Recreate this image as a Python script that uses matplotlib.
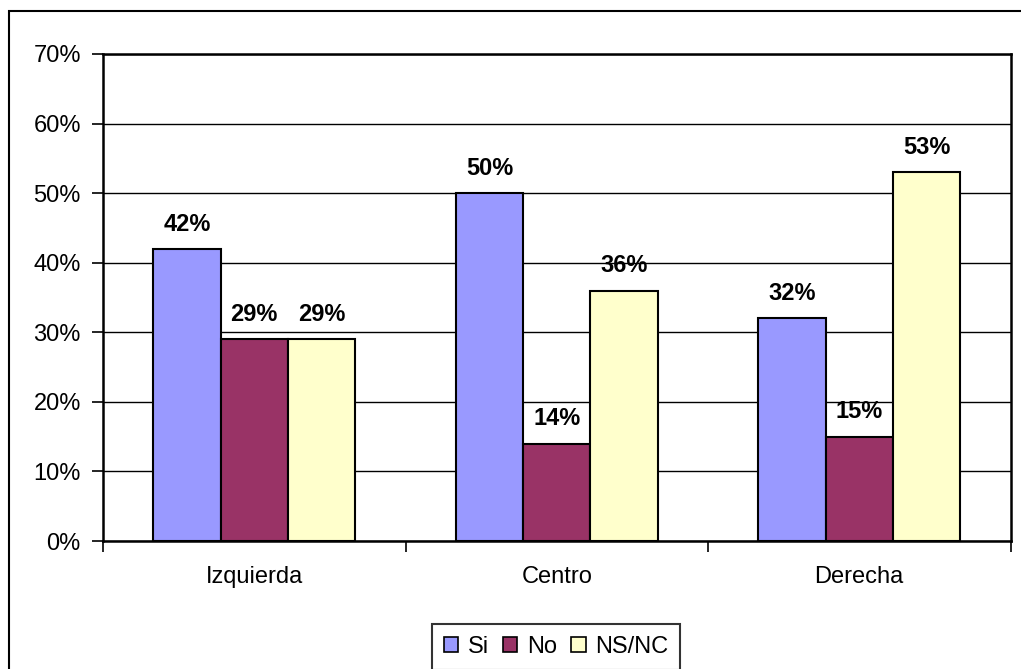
import matplotlib
matplotlib.use("Agg")
import matplotlib.pyplot as plt
from matplotlib.patches import Rectangle
from matplotlib.ticker import FixedLocator, FuncFormatter
import numpy as np

categories = ["Izquierda", "Centro", "Derecha"]
series_names = ["Si", "No", "NS/NC"]
si = [42, 50, 32]
no = [29, 14, 15]
nsnc = [29, 36, 53]
series_values = [si, no, nsnc]
colors = ["#9999FF", "#993366", "#FFFFCC"]
yticks = [0, 10, 20, 30, 40, 50, 60, 70]

plt.rcParams['font.family'] = ['Liberation Sans', 'DejaVu Sans']

W, H = 1021, 669
fig = plt.figure(figsize=(W / 100, H / 100), dpi=100)

# outer chart border (extends beyond image on right/bottom)
fig.patches.append(Rectangle((8.5 / W, -0.1), 1.2, 1 - 11.5 / H + 0.1,
                             transform=fig.transFigure, fill=False,
                             edgecolor="black", linewidth=1.5))

left, right, top, bottom = 103, 1010.5, 54, 541
ax = fig.add_axes([left / W, 1 - bottom / H, (right - left) / W, (bottom - top) / H])

FS = 17
LFS = 17
n = len(categories)
x = np.arange(n)
bw = 1 / (3 + 1.5)
for i, (name, vals, c) in enumerate(zip(series_names, series_values, colors)):
    pos = x + (i - 1) * bw
    ax.bar(pos, vals, width=bw, color=c, edgecolor="black", linewidth=1.5,
           label=name, zorder=3)
    for xb, v in zip(pos, vals):
        ax.annotate(f"{v}%", (xb, v), xytext=(0, 9.5), textcoords="offset points",
                    ha="center", va="bottom", fontsize=FS, fontweight="bold", zorder=4)

ax.set_xlim(-0.5, n - 0.5)
ax.set_ylim(0, 70)
ax.set_yticks(yticks)
ax.yaxis.set_major_formatter(FuncFormatter(lambda v, p: f"{int(v)}%"))
ax.yaxis.grid(True, color="black", linewidth=1.0, zorder=0)
ax.set_axisbelow(True)

ax.set_xticks(x)
ax.set_xticklabels(categories)
ax.xaxis.set_minor_locator(FixedLocator(np.arange(-0.5, n, 1.0)))
ax.tick_params(axis="x", which="major", length=0, pad=18, labelsize=FS)
ax.tick_params(axis="x", which="minor", length=8, width=1.2, direction="out")
ax.tick_params(axis="y", length=8, width=1.2, direction="out", pad=8, labelsize=FS)

for s in ax.spines.values():
    s.set_linewidth(1.8)
    s.set_color("black")

fig.legend(loc="upper left", bbox_to_anchor=(432 / W, 1 - 624 / H),
           ncol=3, frameon=True, fancybox=False, edgecolor="black",
           fontsize=LFS, handlelength=0.6, handleheight=0.6,
           handletextpad=0.42, columnspacing=0.6, borderpad=0.5,
           borderaxespad=0)
leg = fig.legends[0]
leg.get_frame().set_linewidth(1.5)
for h in leg.legend_handles:
    h.set_linewidth(1.2)

fig.savefig("out.png", dpi=100)
